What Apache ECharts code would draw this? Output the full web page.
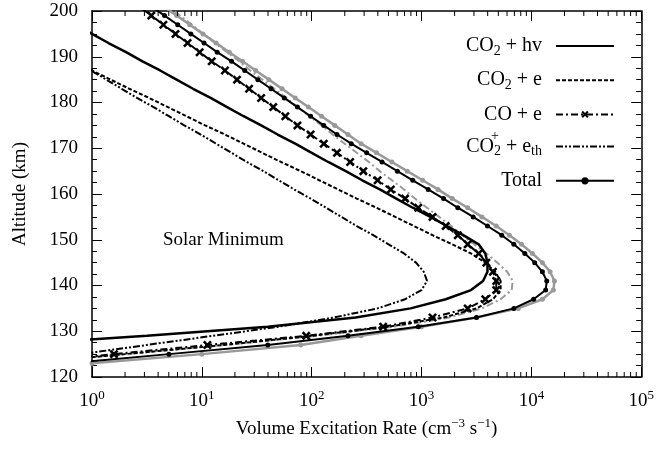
<!DOCTYPE html>
<html>
<head>
<meta charset="utf-8">
<script src="https://cdn.jsdelivr.net/npm/echarts@6/dist/echarts.min.js"></script>
<style>
  html, body { margin: 0; padding: 0; background: #fff; }
  #chart { width: 657px; height: 453px; }
</style>
</head>
<body>
<div id="chart"></div>
<script>
// Altitude grid (km) shared by every profile
const altitudes = [123,125,127,129,131,133,135,137,139,141,143,145,147,149,151,153,155,157,159,161,
                   163,165,167,169,171,173,175,177,179,181,183,185,187,189,191,193,195,197,199,201];

// Profiles as log10 of the volume excitation rate (cm^-3 s^-1), one value per altitude
const co2HvLog = [-2,-1.5,-0.8,0.5,1.6,2.4,2.9,3.22,3.45,3.56,3.6,3.6,3.58,3.52,3.38,3.23,3.08,2.92,2.77,2.62,
                  2.46,2.31,2.15,2.0,1.85,1.69,1.54,1.38,1.23,1.08,0.92,0.77,0.62,0.46,0.31,0.15,0,-0.15,-0.31,-0.46];
const co2ELog = [-0.6,0.3,1.2,2.0,2.7,3.2,3.5,3.65,3.72,3.72,3.67,3.58,3.45,3.28,3.1,2.93,2.76,2.59,2.41,2.24,
                 2.07,1.9,1.72,1.55,1.38,1.21,1.03,0.86,0.69,0.52,0.34,0.17,0,-0.17,-0.34,-0.52,-0.69,-0.86,-1.03,-1.21];
const coELog = [-0.6,0.2,1.05,1.95,2.65,3.1,3.42,3.58,3.68,3.68,3.65,3.59,3.52,3.42,3.33,3.22,3.1,2.97,2.85,2.72,
                2.6,2.47,2.35,2.23,2.11,1.99,1.87,1.76,1.65,1.54,1.43,1.32,1.21,1.09,0.98,0.87,0.76,0.65,0.54,0.43];
const co2pEthLog = [-0.7,-0.1,0.5,1.1,1.7,2.2,2.6,2.85,3.0,3.05,3.02,2.95,2.84,2.7,2.56,2.41,2.27,2.13,1.99,1.84,
                    1.7,1.56,1.41,1.27,1.13,0.99,0.84,0.7,0.56,0.41,0.27,0.13,-0.01,-0.16,-0.3,-0.44,-0.59,-0.73,-0.87,-1.01];
const totalLog = [-0.2,0.7,1.6,2.33,2.97,3.5,3.84,4.02,4.13,4.14,4.1,4.03,3.94,3.84,3.73,3.6,3.47,3.33,3.2,3.06,
                  2.92,2.78,2.64,2.5,2.36,2.23,2.11,1.99,1.87,1.75,1.63,1.51,1.39,1.27,1.14,1.02,0.9,0.78,0.66,0.54];
// Second (grey) set of profiles
const totalGreyLog = [0.0,1.0,1.9,2.45,3.0,3.5,3.88,4.1,4.2,4.21,4.17,4.1,4.01,3.91,3.8,3.68,3.55,3.42,3.28,3.15,
                      3.01,2.87,2.73,2.59,2.45,2.33,2.21,2.09,1.97,1.85,1.73,1.61,1.49,1.37,1.25,1.13,1.01,0.89,0.77,0.65];
const coEGreyLog = [-0.6,0.3,1.2,2.05,2.75,3.25,3.55,3.72,3.82,3.83,3.78,3.69,3.59,3.48,3.37,3.27,3.16,3.05,2.94,2.84,
                    2.73,2.62,2.52,2.41,2.3,2.19,2.09,1.98,1.87,1.77,1.66,1.55,1.44,1.34,1.23,1.12,1.01,0.91,0.8,0.69];

// Log-axis minor tick positions (2..9 per decade)
const minorTickValues = [2,3,4,5,6,7,8,9,20,30,40,50,60,70,80,90,200,300,400,500,600,700,800,900,
                         2000,3000,4000,5000,6000,7000,8000,9000,20000,30000,40000,50000,60000,70000,80000,90000];
const yTickLabels = [120,130,140,150,160,170,180,190,200];

const FONT = '"Liberation Serif", "Times New Roman", serif';

function profile(logs) {
  return altitudes.map((h, i) => [Math.pow(10, logs[i]), h]);
}

const crossPath = 'path://M0,2 L2,0 L5,3 L8,0 L10,2 L7,5 L10,8 L8,10 L5,7 L2,10 L0,8 L3,5 Z';

const chart = echarts.init(document.getElementById('chart'), null, { renderer: 'canvas' });

const axisCommon = {
  type: 'log', logBase: 10, min: 1, max: 100000,
  axisLine: { show: true, lineStyle: { color: '#000', width: 1.5 } },
  axisTick: { show: true, inside: true, length: 10, lineStyle: { color: '#000', width: 1 } },
  splitLine: { show: false }, minorTick: { show: false }
};
const yCommon = {
  type: 'value', min: 120, max: 200, interval: 10,
  axisLine: { show: true, lineStyle: { color: '#000', width: 1.5 } },
  axisTick: { show: true, inside: true, length: 10, lineStyle: { color: '#000', width: 1 } },
  minorTick: { show: true, splitNumber: 4, length: 5, lineStyle: { color: '#000', width: 1 } },
  splitLine: { show: false }
};

const noSymbol = { opacity: 0 };

const option = {
  animation: false,
  backgroundColor: '#fff',
  grid: { left: 92, right: 14, top: 11, bottom: 76 },
  xAxis: [
    Object.assign({}, axisCommon, {
      position: 'bottom',
      axisLabel: {
        margin: 12, color: '#000', fontFamily: FONT, fontSize: 19,
        formatter: v => '{b|10}{s|' + Math.round(Math.log10(v)) + '}',
        rich: {
          b: { fontFamily: FONT, fontSize: 19, color: '#000' },
          s: { fontFamily: FONT, fontSize: 13, color: '#000', padding: [0, 0, 11, 0] }
        }
      },
      name: 'Volume Excitation Rate (cm{s|\u22123} s{s|\u22121})',
      nameLocation: 'middle', nameGap: 40,
      nameTextStyle: {
        fontFamily: FONT, fontSize: 19, color: '#000',
        rich: { s: { fontFamily: FONT, fontSize: 13, color: '#000', padding: [0, 0, 11, 0] } }
      }
    }),
    Object.assign({}, axisCommon, { position: 'top', axisLabel: { show: false } })
  ],
  yAxis: [
    Object.assign({}, yCommon, {
      position: 'left',
      axisLabel: { margin: 14, color: '#000', fontFamily: FONT, fontSize: 19,
        formatter: v => yTickLabels.includes(v) ? String(v) : '' },
      name: 'Altitude (km)', nameLocation: 'middle', nameGap: 62,
      nameTextStyle: { fontFamily: FONT, fontSize: 19, color: '#000' }
    }),
    Object.assign({}, yCommon, { position: 'right', axisLabel: { show: false } })
  ],
  legend: {
    data: [
      { name: 'CO2 + hv', itemStyle: noSymbol },
      { name: 'CO2 + e', itemStyle: noSymbol },
      { name: 'CO + e' },
      { name: 'CO2+ + eth', itemStyle: noSymbol },
      { name: 'Total' }
    ],
    orient: 'vertical', align: 'right', right: 42, top: 36,
    itemWidth: 58, itemHeight: 9, itemGap: 12.2, padding: 0,
    selectedMode: false,
    textStyle: {
      fontFamily: FONT, fontSize: 20, color: '#000', padding: [0, 9, 0, 0],
      rich: {
        t: { fontFamily: FONT, fontSize: 20, color: '#000' },
        sub: { fontFamily: FONT, fontSize: 14, color: '#000', padding: [10, 0, 0, 0] }
      }
    },
    formatter: name => ({
      'CO2 + hv': '{t|CO}{sub|2}{t| + hv}',
      'CO2 + e': '{t|CO}{sub|2}{t| + e}',
      'CO + e': '{t|CO + e}',
      'CO2+ + eth': '{t|CO}{sub|2}{t| + e}{sub|th}',
      'Total': '{t|Total}'
    })[name]
  },
  graphic: [
    { type: 'text', left: 163, top: 231,
      style: { text: 'Solar Minimum', font: '19px ' + FONT, fill: '#000' } },
    // superscript "+" stacked over the subscript of CO2+
    { type: 'text', left: 491, top: 129,
      style: { text: '+', font: '14px ' + FONT, fill: '#000' } }
  ],
  series: [
    { name: 'CO + e (grey)', type: 'line', data: profile(coEGreyLog), symbol: 'none',
      lineStyle: { color: '#999', width: 2, type: [7, 3, 2, 3] }, z: 2 },
    { name: 'Total (grey)', type: 'line', data: profile(totalGreyLog), symbol: 'circle', symbolSize: 5,
      itemStyle: { color: '#999' }, lineStyle: { color: '#999', width: 2.5 }, z: 2 },
    { name: 'CO2 + hv', type: 'line', data: profile(co2HvLog), symbol: 'none',
      lineStyle: { color: '#000', width: 2.5 }, itemStyle: { color: '#000' }, z: 3 },
    { name: 'CO2 + e', type: 'line', data: profile(co2ELog), symbol: 'none',
      lineStyle: { color: '#000', width: 2, type: [4, 2] }, itemStyle: { color: '#000' }, z: 3 },
    { name: 'CO + e', type: 'line', data: profile(coELog), symbol: crossPath, symbolSize: 9,
      lineStyle: { color: '#000', width: 2, type: [7, 3, 2, 3] }, itemStyle: { color: '#000' }, z: 3 },
    { name: 'CO2+ + eth', type: 'line', data: profile(co2pEthLog), symbol: 'none',
      lineStyle: { color: '#000', width: 2, type: [7, 2, 2, 2, 2, 2] }, itemStyle: { color: '#000' }, z: 3 },
    { name: 'Total', type: 'line', data: profile(totalLog), symbol: 'circle', symbolSize: 5,
      lineStyle: { color: '#000', width: 2 }, itemStyle: { color: '#000' }, z: 4 },
    {
      name: 'minor ticks', type: 'custom', silent: true, clip: false, z: 5,
      data: minorTickValues.map(v => [v, 120]),
      renderItem: (params, api) => {
        const v = api.value(0);
        const b = api.coord([v, 120]);
        const t = api.coord([v, 200]);
        return { type: 'group', children: [
          { type: 'line', shape: { x1: b[0], y1: b[1], x2: b[0], y2: b[1] - 5 }, style: { stroke: '#000', lineWidth: 1 } },
          { type: 'line', shape: { x1: t[0], y1: t[1], x2: t[0], y2: t[1] + 5 }, style: { stroke: '#000', lineWidth: 1 } }
        ] };
      }
    }
  ]
};

chart.setOption(option);
</script>
</body>
</html>
